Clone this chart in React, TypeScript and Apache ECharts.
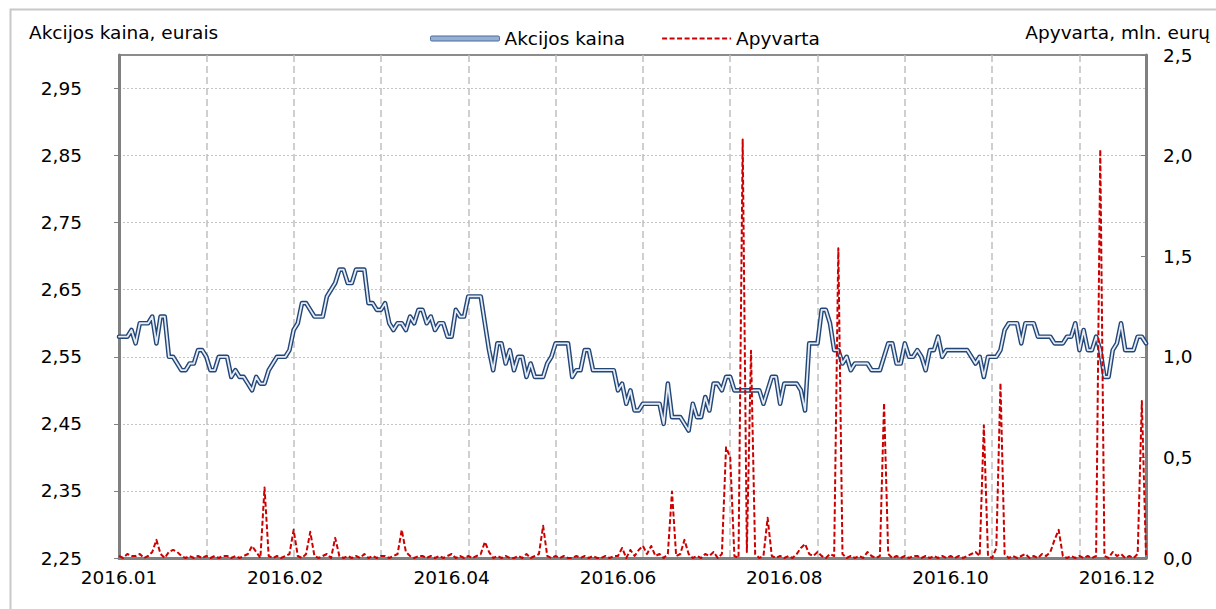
import React, { useEffect, useRef } from 'react';
import * as echarts from 'echarts';

// Daily share price (EUR), trading days of 2016
const priceValues: number[] = [
  2.58, 2.58, 2.58, 2.59, 2.57, 2.60, 2.60, 2.60, 2.61, 2.57,
  2.61, 2.61, 2.55, 2.55, 2.54, 2.53, 2.53, 2.54, 2.54, 2.56,
  2.56, 2.55, 2.53, 2.53, 2.55, 2.55, 2.55, 2.52, 2.53, 2.52,
  2.52, 2.51, 2.50, 2.52, 2.51, 2.51, 2.53, 2.54, 2.55, 2.55,
  2.55, 2.56, 2.59, 2.60, 2.63, 2.63, 2.62, 2.61, 2.61, 2.61,
  2.64, 2.65, 2.66, 2.68, 2.68, 2.66, 2.66, 2.68, 2.68, 2.68,
  2.63, 2.63, 2.62, 2.62, 2.63, 2.60, 2.59, 2.60, 2.60, 2.59,
  2.61, 2.60, 2.62, 2.62, 2.60, 2.61, 2.59, 2.60, 2.60, 2.58,
  2.58, 2.62, 2.61, 2.61, 2.64, 2.64, 2.64, 2.64, 2.60, 2.56,
  2.53, 2.57, 2.57, 2.54, 2.56, 2.53, 2.55, 2.55, 2.52, 2.54,
  2.52, 2.52, 2.52, 2.54, 2.55, 2.57, 2.57, 2.57, 2.57, 2.52,
  2.53, 2.53, 2.56, 2.56, 2.53, 2.53, 2.53, 2.53, 2.53, 2.53,
  2.50, 2.51, 2.48, 2.50, 2.47, 2.47, 2.48, 2.48, 2.48, 2.48,
  2.48, 2.45, 2.51, 2.46, 2.46, 2.46, 2.45, 2.44, 2.48, 2.46,
  2.46, 2.49, 2.47, 2.51, 2.51, 2.50, 2.52, 2.52, 2.50, 2.50,
  2.50, 2.50, 2.50, 2.50, 2.50, 2.48, 2.50, 2.52, 2.52, 2.48,
  2.51, 2.51, 2.51, 2.51, 2.50, 2.47, 2.57, 2.57, 2.57, 2.62,
  2.62, 2.60, 2.56, 2.56, 2.54, 2.55, 2.53, 2.54, 2.54, 2.54,
  2.54, 2.53, 2.53, 2.53, 2.55, 2.57, 2.57, 2.54, 2.54, 2.57,
  2.55, 2.55, 2.56, 2.55, 2.53, 2.56, 2.56, 2.58, 2.55, 2.56,
  2.56, 2.56, 2.56, 2.56, 2.56, 2.55, 2.54, 2.55, 2.52, 2.55,
  2.55, 2.55, 2.56, 2.59, 2.60, 2.60, 2.60, 2.57, 2.60, 2.60,
  2.60, 2.58, 2.58, 2.58, 2.58, 2.57, 2.57, 2.57, 2.58, 2.58,
  2.60, 2.56, 2.59, 2.56, 2.56, 2.58, 2.56, 2.52, 2.52, 2.56,
  2.57, 2.60, 2.56, 2.56, 2.56, 2.58, 2.58, 2.57,
];

// Daily turnover (mln. EUR)
const turnoverValues: number[] = [
  0.01, 0.00, 0.02, 0.01, 0.01, 0.02, 0.00, 0.01, 0.03, 0.09,
  0.02, 0.00, 0.03, 0.04, 0.03, 0.01, 0.00, 0.01, 0.00, 0.01,
  0.00, 0.01, 0.00, 0.01, 0.00, 0.01, 0.01, 0.00, 0.01, 0.00,
  0.01, 0.02, 0.06, 0.03, 0.00, 0.35, 0.01, 0.00, 0.01, 0.00,
  0.01, 0.02, 0.14, 0.01, 0.00, 0.02, 0.13, 0.01, 0.00, 0.01,
  0.02, 0.00, 0.10, 0.01, 0.00, 0.01, 0.00, 0.01, 0.00, 0.02,
  0.00, 0.01, 0.00, 0.01, 0.01, 0.00, 0.01, 0.02, 0.14, 0.03,
  0.01, 0.00, 0.01, 0.01, 0.00, 0.01, 0.00, 0.01, 0.00, 0.01,
  0.02, 0.00, 0.01, 0.00, 0.01, 0.00, 0.01, 0.02, 0.08, 0.03,
  0.00, 0.01, 0.00, 0.01, 0.00, 0.00, 0.01, 0.00, 0.02, 0.00,
  0.01, 0.02, 0.16, 0.01, 0.00, 0.01, 0.00, 0.01, 0.00, 0.00,
  0.01, 0.00, 0.01, 0.00, 0.01, 0.00, 0.00, 0.01, 0.00, 0.01,
  0.01, 0.05, 0.00, 0.04, 0.01, 0.04, 0.06, 0.02, 0.06, 0.01,
  0.02, 0.00, 0.02, 0.33, 0.01, 0.02, 0.09, 0.02, 0.00, 0.01,
  0.00, 0.02, 0.01, 0.03, 0.00, 0.02, 0.55, 0.50, 0.01, 0.00,
  2.08, 0.03, 1.03, 0.02, 0.00, 0.01, 0.20, 0.01, 0.00, 0.01,
  0.00, 0.01, 0.00, 0.02, 0.05, 0.07, 0.02, 0.01, 0.03, 0.01,
  0.00, 0.02, 0.01, 1.54, 0.02, 0.00, 0.01, 0.00, 0.01, 0.00,
  0.03, 0.01, 0.00, 0.01, 0.77, 0.02, 0.00, 0.01, 0.00, 0.01,
  0.00, 0.01, 0.01, 0.00, 0.01, 0.00, 0.01, 0.00, 0.01, 0.00,
  0.01, 0.00, 0.01, 0.00, 0.01, 0.02, 0.03, 0.01, 0.66, 0.01,
  0.00, 0.05, 0.87, 0.02, 0.00, 0.01, 0.00, 0.01, 0.02, 0.00,
  0.01, 0.00, 0.02, 0.01, 0.03, 0.09, 0.14, 0.01, 0.00, 0.01,
  0.00, 0.01, 0.00, 0.01, 0.00, 0.01, 2.03, 0.01, 0.00, 0.03,
  0.01, 0.02, 0.00, 0.01, 0.00, 0.02, 0.78, 0.01,
];

// X axis: category positions (trading-day index) of labels and of grid marks
const xLabelIndex: number[] = [0, 40, 80, 120, 160, 200, 240];
const xLabels: string[] = ['2016.01', '2016.02', '2016.04', '2016.06', '2016.08', '2016.10', '2016.12'];
const xGridIndex: number[] = [21, 42, 63, 84, 105, 126, 147, 168, 189, 210, 231];

// Y axes ticks
const leftTicks: number[] = [2.25, 2.35, 2.45, 2.55, 2.65, 2.75, 2.85, 2.95];
const leftMin = 2.25;
const leftMax = 3.0;
const rightMin = 0;
const rightMax = 2.5;
const rightInterval = 0.5;

const seriesPriceName = 'Akcijos kaina';
const seriesTurnoverName = 'Apyvarta';
const leftTitle = 'Akcijos kaina, eurais';
const rightTitle = 'Apyvarta, mln. eurų';

const FONT = 'DejaVu Sans';
const FS = 18.5;

export default function App() {
  const ref = useRef<HTMLDivElement>(null);

  useEffect(() => {
    if (!ref.current) return;
    const chart = echarts.init(ref.current, null, { renderer: 'svg' });
    const lastIndex = priceValues.length - 1;
    const price = priceValues.map((v, i) => [i, v]);
    const turnover = turnoverValues.map((v, i) => [i, v]);

    const option: any = {
      animation: false,
      backgroundColor: '#ffffff',
      textStyle: { fontFamily: FONT },
      grid: {
        left: 119,
        right: 70,
        top: 55,
        bottom: 51,
        show: true,
        borderColor: '#8c8c8c',
        borderWidth: 2,
        backgroundColor: 'transparent',
      },
      legend: {
        left: 425,
        top: 24,
        itemWidth: 69,
        itemHeight: 5,
        itemGap: 36,
        selectedMode: false,
        textStyle: { fontSize: FS, fontFamily: FONT, color: '#000' },
        data: [
          {
            name: seriesPriceName,
            icon: 'roundRect',
            itemStyle: { color: '#95b0d4', borderColor: '#4a6a98', borderWidth: 1 },
          },
          { name: seriesTurnoverName, itemStyle: { opacity: 0 } },
        ],
      },
      graphic: [
        {
          type: 'rect',
          silent: true,
          z: -10,
          shape: { x: 10.5, y: 9.5, width: 1300, height: 700 },
          style: { fill: 'none', stroke: '#c8c8c8', lineWidth: 2 },
        },
        {
          type: 'text',
          left: 29,
          top: 23,
          style: { text: leftTitle, fontSize: FS, fontFamily: FONT, fill: '#000' },
        },
        {
          type: 'text',
          right: 6,
          top: 23,
          style: { text: rightTitle, fontSize: FS, fontFamily: FONT, fill: '#000' },
        },
      ],
      xAxis: {
        type: 'value',
        min: 0,
        max: lastIndex,
        axisLine: { show: true, onZero: false, lineStyle: { color: '#808080', width: 3 } },
        axisTick: { show: false, customValues: xGridIndex },
        axisLabel: {
          customValues: xLabelIndex,
          margin: 10,
          fontSize: FS,
          fontFamily: FONT,
          color: '#000',
          formatter: (v: number) => {
            const k = xLabelIndex.indexOf(Math.round(v));
            return k >= 0 ? xLabels[k] : '';
          },
        },
        splitLine: { show: true, lineStyle: { color: '#c0c0c0', width: 1.5, type: [7, 4] } },
      },
      yAxis: [
        {
          type: 'value',
          position: 'left',
          min: leftMin,
          max: leftMax,
          axisLine: { show: true, lineStyle: { color: '#808080', width: 3 } },
          axisTick: { show: true, inside: false, length: 5, customValues: leftTicks, lineStyle: { color: '#808080', width: 1 } },
          axisLabel: {
            customValues: leftTicks,
            margin: 37,
            fontSize: FS,
            fontFamily: FONT,
            color: '#000',
            formatter: (v: number) => v.toFixed(2).replace('.', ','),
          },
          splitLine: { show: true, lineStyle: { color: '#c4c4c4', width: 1, type: [2, 2] } },
        },
        {
          type: 'value',
          position: 'right',
          min: rightMin,
          max: rightMax,
          interval: rightInterval,
          axisLine: { show: true, lineStyle: { color: '#808080', width: 3 } },
          axisTick: { show: true, inside: true, length: 5, lineStyle: { color: '#808080', width: 1 } },
          axisLabel: {
            margin: 17,
            fontSize: FS,
            fontFamily: FONT,
            color: '#000',
            formatter: (v: number) => v.toFixed(1).replace('.', ','),
          },
          splitLine: { show: false },
        },
      ],
      series: [
        {
          name: seriesPriceName,
          type: 'line',
          yAxisIndex: 0,
          data: price,
          symbol: 'none',
          showSymbol: false,
          z: 2,
          itemStyle: { color: '#224677' },
          lineStyle: { color: '#224677', width: 4.6, join: 'round', cap: 'round' },
        },
        {
          name: 'price-inner',
          type: 'line',
          yAxisIndex: 0,
          data: price,
          symbol: 'none',
          showSymbol: false,
          z: 3,
          itemStyle: { color: '#e6ecf5' },
          lineStyle: { color: '#e6ecf5', width: 1.8, join: 'round', cap: 'round' },
        },
        {
          name: seriesTurnoverName,
          type: 'line',
          yAxisIndex: 1,
          data: turnover,
          symbol: 'none',
          showSymbol: false,
          z: 4,
          itemStyle: { color: '#cc0000' },
          lineStyle: { color: '#cc0000', width: 2, type: [5, 2.5], join: 'round' },
        },
      ],
    };

    chart.setOption(option);
    return () => chart.dispose();
  }, []);

  return (
    <div
      ref={ref}
      style={{ position: 'fixed', left: 0, top: 0, width: 1216, height: 609, background: '#fff' }}
    />
  );
}
